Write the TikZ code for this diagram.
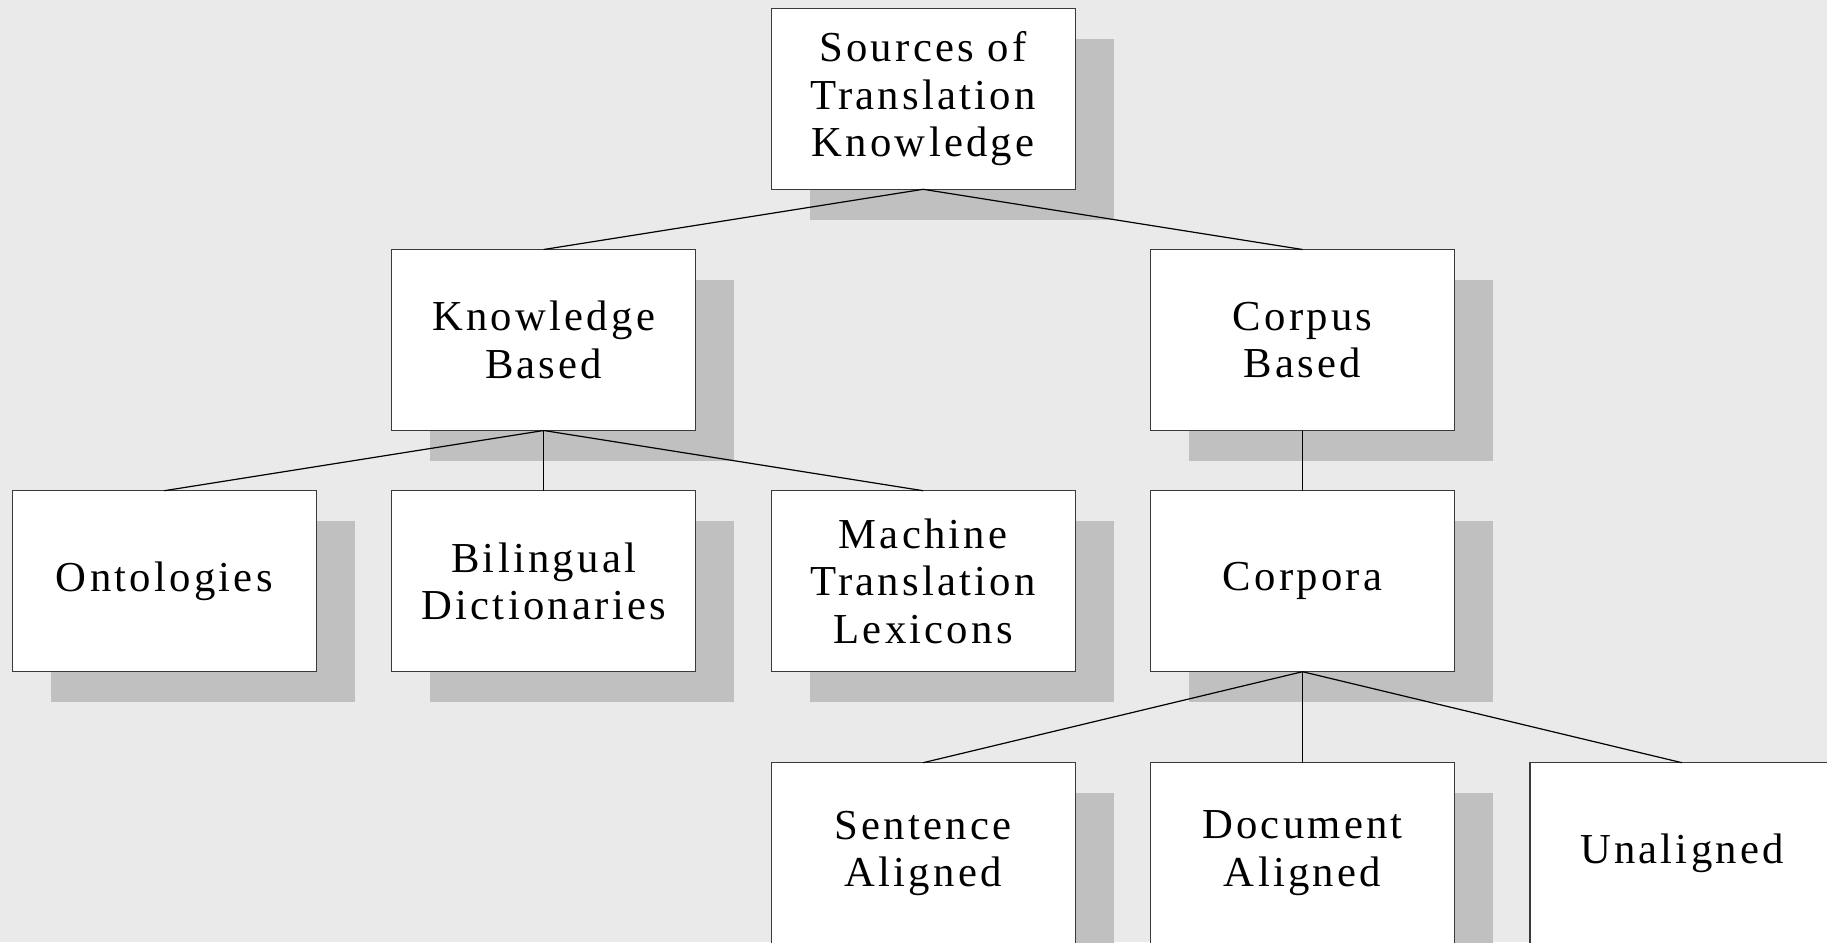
\documentclass[tikz,border=0pt]{standalone}
\usepackage{fontspec}
\setmainfont{Liberation Serif}[LetterSpace=7.6]
\usetikzlibrary{positioning,shadows}
\definecolor{bggray}{HTML}{EAEAEA}
\definecolor{shadegray}{HTML}{C0C0C0}
\definecolor{framegray}{HTML}{3A3A3A}

\begin{document}
\begin{tikzpicture}[x=1pt, y=-1pt, node distance={60.2pt and 75.4pt}, line width=1.2pt,
    main/.style = {draw=framegray, fill=white, outer sep=0pt, minimum width=304pt, minimum height=181pt,
      align=center, font=\fontsize{42.7}{47.3}\selectfont,
      drop shadow={shadow xshift=38.5pt, shadow yshift=-30.7pt, fill=shadegray, opacity=1}}]
				\useasboundingbox (0,0) rectangle (1827,942);
				\fill[bggray] (0,0) rectangle (1827,942);
				\node[main] (1) at (923.1,98.8) {Sources of\\Translation\\Knowledge};
				\node[main] (2) [below left = 60.2pt and 75.4pt of 1] {Knowledge\\Based};
				\node[main] (3) [below right = 60.2pt and 75.4pt of 1] {Corpus\\Based};
				\node[main] (5) [below = of 2] {Bilingual\\Dictionaries};
				\node[main] (4) [left = of 5] {Ontologies};
				\node[main] (6) [right = of 5] {Machine\\Translation\\Lexicons};
				\node[main] (7) [below = of 3] {Corpora};
				\node[main] (9) [below = 91pt of 7] {Document\\Aligned};
				\node[main] (8) [left = of 9] {Sentence\\Aligned};
				\node[main] (10) [right = of 9] {Unaligned};
				\draw(1.south) -- (2.north);
				\draw(1.south) -- (3.north);
				\draw(2.south) -- (4.north);
				\draw(2.south) -- (5.north);
				\draw(2.south) -- (6.north);
				\draw(3.south) -- (7.north);
				\draw(7.south) -- (8.north);
				\draw(7.south) -- (9.north);
				\draw(7.south) -- (10.north);
			\end{tikzpicture}
\end{document}
